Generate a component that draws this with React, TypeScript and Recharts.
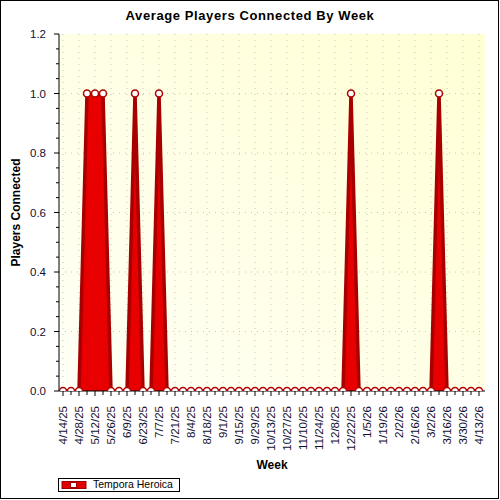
import { AreaChart, Area, XAxis, YAxis, CartesianGrid, Label } from 'recharts';

const WEEKS = [
  '4/14/25', '4/21/25', '4/28/25', '5/5/25', '5/12/25', '5/19/25', '5/26/25', '6/2/25', '6/9/25',
  '6/16/25', '6/23/25', '6/30/25', '7/7/25', '7/14/25', '7/21/25', '7/28/25', '8/4/25', '8/11/25',
  '8/18/25', '8/25/25', '9/1/25', '9/8/25', '9/15/25', '9/22/25', '9/29/25', '10/6/25', '10/13/25',
  '10/20/25', '10/27/25', '11/3/25', '11/10/25', '11/17/25', '11/24/25', '12/1/25', '12/8/25',
  '12/15/25', '12/22/25', '12/29/25', '1/5/26', '1/12/26', '1/19/26', '1/26/26', '2/2/26', '2/9/26',
  '2/16/26', '2/23/26', '3/2/26', '3/9/26', '3/16/26', '3/23/26', '3/30/26', '4/6/26', '4/13/26',
];

const PLAYERS = [
  0, 0, 0, 1, 1, 1, 0, 0, 0, 1, 0, 0, 1, 0, 0, 0, 0, 0,
  0, 0, 0, 0, 0, 0, 0, 0, 0, 0, 0, 0, 0, 0, 0, 0, 0, 0,
  1, 0, 0, 0, 0, 0, 0, 0, 0, 0, 0, 1, 0, 0, 0, 0, 0,
];

const SERIES_NAME = 'Tempora Heroica';

const Y_TICKS = [
  0, 0.05, 0.1, 0.15, 0.2, 0.25, 0.3, 0.35, 0.4, 0.45, 0.5, 0.55, 0.6,
  0.65, 0.7, 0.75, 0.8, 0.85, 0.9, 0.95, 1, 1.05, 1.1, 1.15, 1.2,
];
const Y_GRID = [0.2, 0.4, 0.6, 0.8, 1];
const X_GRID = WEEKS.filter((_, i) => i % 2 === 0);

const data = WEEKS.map((week, i) => ({ week, players: PLAYERS[i] }));

const FONT = '"Liberation Sans", Arial, sans-serif';
const TICK_COLOR = '#111133';

const isMajorY = (v: number) => Math.round(v * 100) % 20 === 0;
const isLabelledWeek = (v: string) => WEEKS.indexOf(v) % 2 === 0;

function BottomTick({ x, y, payload }: any) {
  const major = isLabelledWeek(payload.value);
  return (
    <g>
      <line x1={x} y1={y} x2={x} y2={y + (major ? 5 : 4)} stroke="#000" />
      {major && (
        <text
          x={x + 4}
          y={y + 15}
          transform={`rotate(-90 ${x + 4} ${y + 15})`}
          textAnchor="end"
          fontSize={11.5}
          fontFamily={FONT}
          fill={TICK_COLOR}
        >
          {payload.value}
        </text>
      )}
    </g>
  );
}

function TopTick({ x, y, payload }: any) {
  const major = isLabelledWeek(payload.value);
  return <line x1={x} y1={y} x2={x} y2={y + (major ? 5 : 3)} stroke="#000" />;
}

function LeftTick({ x, y, payload }: any) {
  const major = isMajorY(payload.value);
  return (
    <g>
      <line x1={x - (major ? 5 : 3)} y1={y} x2={x} y2={y} stroke="#000" />
      {major && (
        <text
          x={x - 13}
          y={y}
          dy="0.36em"
          textAnchor="end"
          fontSize={11.5}
          fontFamily={FONT}
          fill={TICK_COLOR}
        >
          {payload.value.toFixed(1)}
        </text>
      )}
    </g>
  );
}

function RightTick({ x, y, payload }: any) {
  const major = isMajorY(payload.value);
  return <line x1={x - (major ? 5 : 3)} y1={y} x2={x} y2={y} stroke="#000" />;
}

export default function App() {
  return (
    <div style={{ position: 'absolute', left: 0, top: 0, width: 500, height: 500, background: '#fff', fontFamily: FONT }}>
      <div
        style={{
          position: 'absolute',
          left: 0,
          top: 8,
          width: 500,
          textAlign: 'center',
          fontWeight: 'bold',
          fontSize: 13,
          letterSpacing: 0.6,
          color: '#000',
        }}
      >
        Average Players Connected By Week
      </div>

      <div style={{ position: 'absolute', left: 0, top: 0 }}>
        <AreaChart width={500} height={500} data={data} margin={{ top: 34, right: 15, bottom: 49, left: 0 }}>
          <defs>
            <linearGradient id="plotBg" x1="0" y1="1" x2="1" y2="0">
              <stop offset="0%" stopColor="#fffff6" />
              <stop offset="100%" stopColor="#ffffd4" />
            </linearGradient>
          </defs>
          <CartesianGrid
            fill="url(#plotBg)"
            stroke="#c4c4c4"
            strokeDasharray="1 5"
            verticalValues={X_GRID}
            horizontalValues={Y_GRID}
          />
          <XAxis
            dataKey="week"
            interval={0}
            height={60}
            padding={{ left: 4, right: 6 }}
            axisLine={{ stroke: '#000' }}
            tickLine={false}
            tickSize={0}
            tickMargin={0}
            tick={<BottomTick />}
          >
            <Label value="Week" position="bottom" offset={9} style={{ fontWeight: 'bold', fontSize: 12, fill: '#000', fontFamily: FONT }} />
          </XAxis>
          <XAxis
            xAxisId="top"
            dataKey="week"
            orientation="top"
            interval={0}
            height={0}
            padding={{ left: 4, right: 6 }}
            axisLine={{ stroke: '#000' }}
            tickLine={false}
            tickSize={0}
            tickMargin={0}
            tick={<TopTick />}
          />
          <YAxis
            domain={[0, 1.2]}
            ticks={Y_TICKS}
            allowDataOverflow
            width={59}
            axisLine={{ stroke: '#000' }}
            tickLine={false}
            tickSize={0}
            tickMargin={0}
            interval={0}
            tick={<LeftTick />}
          >
            <Label
              value="Players Connected"
              angle={-90}
              position="center"
              dx={-14}
              style={{ fontWeight: 'bold', fontSize: 12, fill: '#000', fontFamily: FONT }}
            />
          </YAxis>
          <YAxis
            yAxisId="right"
            orientation="right"
            domain={[0, 1.2]}
            ticks={Y_TICKS}
            allowDataOverflow
            width={0}
            axisLine={{ stroke: '#000' }}
            tickLine={false}
            tickSize={0}
            tickMargin={0}
            interval={0}
            tick={<RightTick />}
          />
          <Area
            type="linear"
            dataKey="players"
            name={SERIES_NAME}
            stroke="#a80000"
            strokeWidth={3.5}
            fill="#e80000"
            fillOpacity={1}
            dot={{ r: 3.5, fill: '#fff', stroke: '#b00000', strokeWidth: 1.5 }}
            activeDot={false}
            isAnimationActive={false}
          />
        </AreaChart>
      </div>

      <div
        style={{
          position: 'absolute',
          left: 58,
          top: 478,
          width: 120,
          height: 12,
          border: '1px solid #000',
          background: '#fff',
        }}
      >
        <svg width={30} height={12} style={{ position: 'absolute', left: 2, top: 0 }}>
          <rect x={1} y={2.5} width={24} height={7} fill="#e00000" stroke="#a00000" strokeWidth={1} />
          <rect x={9.5} y={3.5} width={6} height={5} fill="#fff" stroke="#a00000" strokeWidth={1} />
        </svg>
        <span style={{ position: 'absolute', left: 34, top: -1, fontSize: 10.5, lineHeight: '13px', color: '#000', whiteSpace: 'nowrap' }}>
          {SERIES_NAME}
        </span>
      </div>

      <div
        style={{
          position: 'absolute',
          left: 0,
          top: 0,
          width: 497,
          height: 497,
          border: '1px solid #000',
          pointerEvents: 'none',
        }}
      />
    </div>
  );
}
